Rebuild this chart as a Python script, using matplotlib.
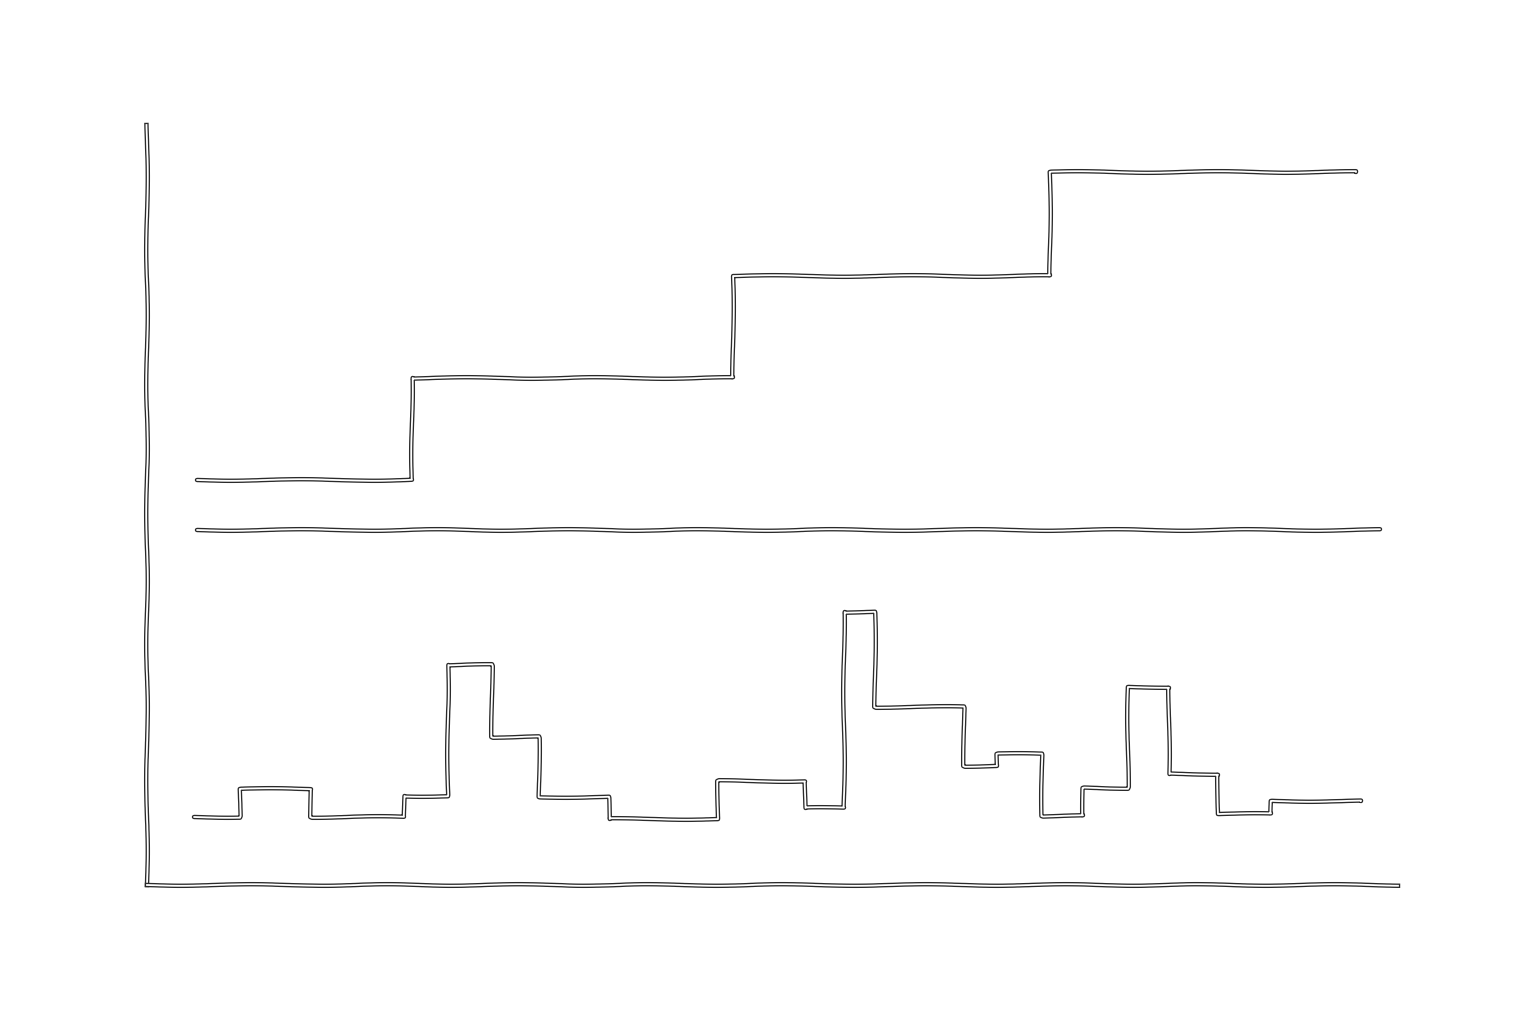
import numpy as np
import matplotlib
matplotlib.use("Agg")
import matplotlib.pyplot as plt
import matplotlib.patheffects as pe

# staircase series (edges and levels)
stair_edges = [5.0, 26.5, 58.6, 90.3, 120.9]
stair_vals = [40.5, 50.7, 60.9, 71.3]

# flat reference line
flat_x = [5.0, 123.3]
flat_y = [35.5, 35.5]

# lower step series
low_edges = [4.7, 9.3, 16.4, 25.7, 30.1, 34.5, 39.2, 46.2, 57.1, 65.8, 69.7,
             72.8, 81.7, 85.0, 89.5, 93.6, 98.1, 102.2, 107.1, 112.4, 121.4]
low_vals = [6.8, 9.6, 6.8, 8.9, 22.0, 14.8, 8.8, 6.6, 10.4, 7.7, 27.3,
            17.8, 11.9, 13.1, 6.9, 9.7, 19.8, 11.1, 7.1, 8.4]

plt.xkcd(scale=0.8, length=150, randomness=2)
plt.rcParams['path.effects'] = []
plt.rcParams['lines.solid_capstyle'] = 'round'

outline = [pe.withStroke(linewidth=3.2, foreground='#2a2a2a')]

fig = plt.figure(figsize=(15.36, 10.24), dpi=100)
ax = fig.add_axes([0.0957, 0.1357, 0.8143, 0.7423])
ax.patch.set_visible(False)

lw = 1.3
ax.step(stair_edges, stair_vals + [stair_vals[-1]], where='post', color='white',
        lw=lw, path_effects=outline)
ax.plot(flat_x, flat_y, color='white', lw=lw, path_effects=outline)
ax.step(low_edges, low_vals + [low_vals[-1]], where='post', color='white',
        lw=lw, path_effects=outline)

for s in ['top', 'right']:
    ax.spines[s].set_visible(False)
for s in ['left', 'bottom']:
    ax.spines[s].set_linewidth(lw)
    ax.spines[s].set_edgecolor('white')
    ax.spines[s].set_path_effects(outline)
ax.set_xticks([])
ax.set_yticks([])
ax.set_xlim(0, 125.1)
ax.set_ylim(0, 76)

fig.savefig("out.png", dpi=100)
